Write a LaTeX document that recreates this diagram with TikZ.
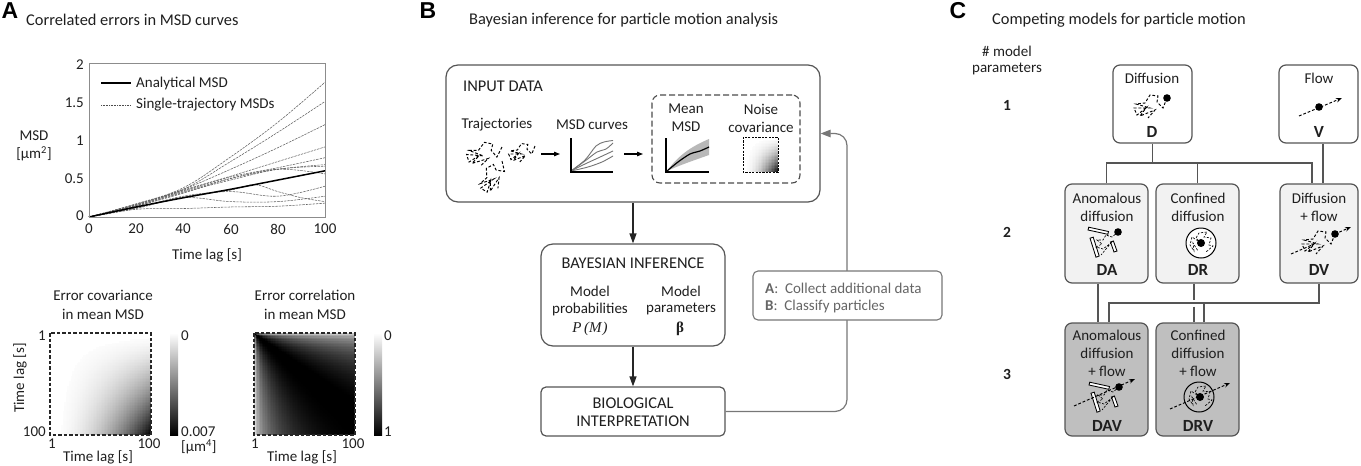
\documentclass[tikz,border=0pt]{standalone}
\usepackage{fontspec}
\setmainfont{Carlito}
\newfontfamily\letterfont{Liberation Sans}
\newfontfamily\mathfontx{Liberation Serif}
\usetikzlibrary{arrows.meta,calc,shapes.geometric}
\definecolor{edgegray}{HTML}{555555}
\definecolor{framegray}{HTML}{8C8C8C}
\definecolor{fbgray}{HTML}{777777}
\definecolor{lightfill}{HTML}{F2F2F2}
\definecolor{darkfill}{HTML}{BFBFBF}
\tikzset{
 txt/.style={inner sep=0pt,font=\fontsize{15}{17}\selectfont,align=center,text=black!88},
 captxt/.style={txt,font=\fontsize{16.4}{18}\selectfont},
 titletxt/.style={txt,anchor=west,font=\fontsize{16.4}{18}\selectfont},
 letterlbl/.style={inner sep=0pt,font=\fontsize{23}{24}\letterfont\bfseries},
 codelbl/.style={txt,font=\fontsize{17}{18}\selectfont\bfseries},
 bigbox/.style={draw=edgegray,line width=1.2pt,rounded corners=#1,inner sep=0pt,fill=white},
 bigbox/.default=12pt,
 modelbox/.style={draw=edgegray,line width=1.2pt,rounded corners=7pt,inner sep=0pt,fill=#1},
 conn/.style={draw=edgegray,line width=1.1pt},
 flowarrow/.style={draw=black!85,line width=1.2pt,-{Triangle[length=10pt,width=7pt]}},
 smallarrow/.style={draw=black,line width=1.1pt,-{Triangle[length=6pt,width=4.5pt]}},
 walkline/.style={draw=black,line width=.95pt,dash pattern=on 2.8pt off 1.9pt},
 thinwalk/.style={draw=black,line width=.65pt,dash pattern=on 2.2pt off 1.5pt},
 msdcurve/.style={draw=black!62,line width=.55pt,dash pattern=on 2.4pt off 1pt},
 obstacle/.style={draw=black,line width=.85pt,fill=white},
 ball/.style={fill=black},
 heatframe/.style={draw=black!85,line width=1.2pt,dash pattern=on 3.5pt off 2pt},
 flowtip/.style={walkline,-{Stealth[length=6pt,width=4.5pt]}},
 pics/walk/.style={code={
  \draw[walkline] (0,0) -- (-4,10) -- (-10,4) -- (-9,-2) -- (-17,-3) -- (-22,5) -- (-31,6) -- (-17,10) -- (-33,10) -- (-30,17) -- (-21,10) -- (-27,18) -- (-12,12) -- (-19,20);
 }},
 pics/bars/.style={code={
  \draw[obstacle] (-30,-2) -- (-29.3,-4.8) -- (-9.5,-0.5) -- (-10.2,2.3) -- cycle;
  \draw[obstacle] (-28,6.2) -- (-24.8,5.2) -- (-18.8,24) -- (-22,25.2) -- cycle;
  \draw[obstacle] (-7.5,10) -- (-4.6,9) -- (-1,19) -- (-4,20) -- cycle;
  \draw[thinwalk] (0,0) -- (-6,5) -- (-12,3) -- (-15,8) -- (-21,8) -- (-16,12) -- (-22,15) -- (-15,17) -- (-7,11) -- (-17,23);
 }},
 pics/confined/.style={code={
  \draw[thinwalk] (0,0) -- (-5,-5) -- (-2,-10) -- (6,-11) -- (3,-6) -- (10,-5) -- (8,2) -- (12,3) -- (5,9);
  \draw[thinwalk] (0,0) -- (-9,-6) -- (-11,2) -- (-7,8) -- (-8,0) -- (-3,8);
 }}
}
\newcommand{\heatcov}[5]{%
 \foreach \ii in {1,...,#5}{\foreach \jj in {1,...,#5}{%
  \pgfmathsetmacro{\vv}{100*pow((\ii-.5)/#5,2)*pow((\jj-.5)/#5,1.5)}%
  \pgfmathsetmacro{\vw}{\vv<1.2?0:\vv}%
  \fill[black!\vw!white] ({#1+(\ii-1)*(#3-#1)/#5},{#2+(\jj-1)*(#4-#2)/#5}) rectangle ({#1+min(\ii+.4,#5)*(#3-#1)/#5},{#2+min(\jj+.4,#5)*(#4-#2)/#5});
 }}}
\newcommand{\heatcor}[5]{%
 \foreach \ii in {1,...,#5}{\foreach \jj in {1,...,#5}{%
  \pgfmathsetmacro{\xa}{(\ii-.5)/#5}\pgfmathsetmacro{\ya}{(\jj-.5)/#5}%
  \pgfmathsetmacro{\vv}{100-100*pow(max(0,1-sqrt(min(\xa,\ya)/max(\xa,\ya))),1.8)}%
  \pgfmathsetmacro{\vw}{min(100,\xa>\ya?\vv+5:\vv)}%
  \fill[black!\vw!white] ({#1+(\ii-1)*(#3-#1)/#5},{#2+(\jj-1)*(#4-#2)/#5}) rectangle ({#1+min(\ii+.4,#5)*(#3-#1)/#5},{#2+min(\jj+.4,#5)*(#4-#2)/#5});
 }}}
\begin{document}
\begin{tikzpicture}[x=1pt,y=-1pt]
\useasboundingbox (0,0) rectangle (1361,466);
% ---------- Panel A
\node[letterlbl] (letterA) at (10,11) {A};
\node[titletxt] (titleA) at (26,20) {Correlated errors in MSD curves};
\begin{scope}[shift={(89,217)},x=2.36pt,y=77pt]
 \foreach \cv in {
  {(0,0) (20,.17) (40,.38) (60,.78) (80,1.23) (100,1.75)},
  {(0,0) (20,.17) (40,.36) (60,.72) (80,1.1) (100,1.5)},
  {(0,0) (20,.16) (40,.36) (60,.62) (80,.9) (100,1.2)},
  {(0,0) (20,.16) (40,.35) (60,.53) (80,.72) (100,.91)},
  {(0,0) (20,.15) (40,.34) (60,.52) (80,.64) (100,.77)},
  {(0,0) (20,.15) (40,.33) (60,.5) (80,.62) (100,.68)},
  {(0,0) (20,.14) (40,.32) (60,.48) (80,.62) (100,.66)},
  {(0,0) (20,.14) (40,.31) (60,.5) (80,.62) (100,.56)},
  {(0,0) (20,.12) (40,.27) (60,.33) (80,.27) (100,.4)},
  {(0,0) (20,.12) (40,.26) (60,.35) (70,.42) (80,.33) (90,.25) (100,.2)},
  {(0,0) (20,.11) (40,.25) (60,.2) (80,.2) (100,.27)},
  {(0,0) (20,.1) (40,.11) (60,.13) (80,.14) (100,.18)}}
 { \draw[msdcurve] plot[smooth,tension=.6] coordinates \cv; }
 \draw[black,line width=1.5pt] plot[smooth] coordinates {(0,0) (20,.13) (40,.25) (60,.36) (80,.48) (100,.6)};
\end{scope}
\draw[framegray,line width=.9pt] (89,63) rectangle (325,217);
\draw[black,line width=1.5pt] (101,83) -- (131,83);
\draw[black!70,line width=.7pt,dash pattern=on 1pt off .6pt] (101,105) -- (131,105);
\node[txt,anchor=west] (legA) at (136,83) {Analytical MSD};
\node[txt,anchor=west] (legB) at (136,105) {Single-trajectory MSDs};
\node[txt,anchor=east] (y2) at (84,65) {2};
\node[txt,anchor=east] (y15) at (84,103) {1.5};
\node[txt,anchor=east] (y1) at (84,141) {1};
\node[txt,anchor=east] (y05) at (84,179) {0.5};
\node[txt,anchor=east] (y0) at (84,216) {0};
\node[txt] (x0) at (89,229) {0};
\node[txt] (x20) at (136,229) {20};
\node[txt] (x40) at (183,229) {40};
\node[txt] (x60) at (231,229) {60};
\node[txt] (x80) at (278,229) {80};
\node[txt] (x100) at (325,229) {100};
\node[txt] (xlabA) at (207,255) {Time lag [s]};
\node[txt] (ylabA) at (34,136) {MSD};
\node[txt] (yunitA) at (34,154) {[µm\textsuperscript{2}]};
% covariance
\node[txt] (covT1) at (103,295) {Error covariance};
\node[txt] (covT2) at (103,314) {in mean MSD};
\heatcov{50}{333}{151}{435}{64}
\draw[heatframe] (50,333) rectangle (151,435);
\shade[top color=white,bottom color=black] (170,333) rectangle (178,435);
\node[txt,anchor=east] (cov1) at (46,336) {1};
\node[txt,anchor=east] (cov100) at (46,432) {100};
\node[txt] (covx1) at (52,444) {1};
\node[txt] (covx100) at (149,444) {100};
\node[txt] (covxl) at (98,457) {Time lag [s]};
\node[txt,rotate=90] (covyl) at (20,378) {Time lag [s]};
\node[txt,anchor=west] (covb0) at (181,336) {0};
\node[txt,anchor=west] (covb7) at (181,432) {0.007};
\node[txt,anchor=west] (covbu) at (181,447) {[µm\textsuperscript{4}]};
% correlation
\node[txt] (corT1) at (305,295) {Error correlation};
\node[txt] (corT2) at (305,314) {in mean MSD};
\heatcor{254}{333}{355}{435}{64}
\draw[heatframe] (254,333) rectangle (355,435);
\shade[top color=white,bottom color=black] (374,333) rectangle (382,435);
\node[txt] (corx1) at (255,444) {1};
\node[txt] (corx100) at (353,444) {100};
\node[txt] (corxl) at (302,457) {Time lag [s]};
\node[txt,anchor=west] (corb0) at (384,336) {0};
\node[txt,anchor=west] (corb1) at (384,432) {1};
% ---------- Panel B
\node[letterlbl] (letterB) at (428,11) {B};
\node[titletxt] (titleB) at (469,20) {Bayesian inference for particle motion analysis};
\node[bigbox=12pt,minimum width=374pt,minimum height=137pt] (input) at (633,133.5) {};
\node[bigbox=5pt,minimum width=184pt,minimum height=49pt] (bio) at (633,411.5) {};
\draw[draw=fbgray,line width=1.2pt,rounded corners=12pt,-{Triangle[length=10pt,width=7.5pt]}] (bio.east) -- (847,411.5) -- (847,133.5) -- (input.east);
\node[captxt,anchor=west] (inputT) at (463,86) {INPUT DATA};
\node[draw=black!70,line width=1.1pt,dash pattern=on 6pt off 3pt,rounded corners=8pt,inner sep=0pt,minimum width=148pt,minimum height=88pt] (dashbox) at (726,139) {};
\node[txt] (trajT) at (497,125) {Trajectories};
\node[txt] (msdT) at (592,125) {MSD curves};
\node[txt] (meanT1) at (686,109) {Mean};
\node[txt] (meanT2) at (686,127) {MSD};
\node[txt] (noiseT1) at (761,109) {Noise};
\node[txt] (noiseT2) at (761,127) {covariance};
\pic[shift={(502,147)},scale=1.05,rotate=-5] {walk};
\pic[shift={(535,146)},scale=.8] {walk};
\pic[shift={(502,161)},scale=1.0,rotate=35] {walk};
\coordinate (a1s) at (541,154); \coordinate (a1e) at (560,154);
\coordinate (a2s) at (624,154); \coordinate (a2e) at (643,154);
\draw[smallarrow] (a1s) -- (a1e);
\draw[smallarrow] (a2s) -- (a2e);
% msd icon
\foreach \cv in {
 {(571,171) (585,160) (596,146) (604,142) (613,140.5)},
 {(571,171) (585,161) (597,152) (606,149) (613,143)},
 {(571,171) (585,164) (598,158) (613,151)},
 {(571,171) (588,167) (602,162) (613,156)}}
 { \draw[black!55,line width=.9pt] plot[smooth] coordinates \cv; }
\draw[black,line width=1.1pt] (571,138) -- (571,172) -- (613,172);
% mean msd icon
\fill[black!28] (667,171) .. controls (678,156) and (690,147) .. (709,139) -- (709,155) .. controls (695,160) and (680,165) .. (667,171) -- cycle;
\draw[black,line width=1.2pt] plot[smooth] coordinates {(667,171) (678,162) (690,154) (700,151) (709,147)};
\draw[black,line width=1.1pt] (666,138) -- (666,172) -- (709,172);
% noise
\heatcov{743}{137}{778}{172}{24}
\draw[black,line width=.9pt,dash pattern=on 2.2pt off 1.2pt] (743,137) rectangle (778,172);
% bayes
\node[bigbox=12pt,minimum width=184pt,minimum height=102pt] (bayes) at (633,295) {};
\node[captxt] (bayesT) at (633,263) {BAYESIAN INFERENCE};
\node[txt] (mp1) at (590,291) {Model};
\node[txt] (mp2) at (590,309) {probabilities};
\node[txt,font=\fontsize{15}{17}\mathfontx\itshape] (mp3) at (590,329) {P\,(M\kern1pt)};
\node[txt] (mq1) at (681,291) {Model};
\node[txt] (mq2) at (681,309) {parameters};
\node[txt,font=\fontsize{15}{17}\mathfontx\bfseries] (mq3) at (680,329) {β};
\node[captxt] (bio1) at (633,403) {BIOLOGICAL};
\node[captxt] (bio2) at (633,421) {INTERPRETATION};
\draw[flowarrow] (input.south) -- (bayes.north);
\draw[flowarrow] (bayes.south) -- (bio.north);
\node[draw=fbgray,line width=1.1pt,rounded corners=5pt,fill=white,inner sep=0pt,minimum width=189pt,minimum height=49pt] (next) at (847.5,295.5) {};
\node[txt,anchor=west,text=black!60] (nextA) at (765,288) {\textbf{A}:\ \ Collect additional data};
\node[txt,anchor=west,text=black!60] (nextB) at (765,306) {\textbf{B}:\ \ Classify particles};
% ---------- Panel C
\node[letterlbl] (letterC) at (958,11) {C};
\node[titletxt] (titleC) at (992,20) {Competing models for particle motion};
\node[txt] (rowT1) at (1007,51) {\# model};
\node[txt] (rowT2) at (1007,69) {parameters};
\node[txt,font=\fontsize{15.5}{18}\selectfont\bfseries] (row1) at (1007,105) {1};
\node[txt,font=\fontsize{15.5}{18}\selectfont\bfseries] (row2) at (1007,232) {2};
\node[txt,font=\fontsize{15.5}{18}\selectfont\bfseries] (row3) at (1007,374) {3};
\node[modelbox=white,minimum width=79pt,minimum height=78pt] (D) at (1152.5,104) {};
\node[modelbox=white,minimum width=79pt,minimum height=78pt] (V) at (1318.5,104) {};
\node[modelbox=lightfill,minimum width=83pt,minimum height=99pt] (DA) at (1106.5,233.5) {};
\node[modelbox=lightfill,minimum width=83pt,minimum height=99pt] (DR) at (1197.5,233.5) {};
\node[modelbox=lightfill,minimum width=78pt,minimum height=99pt] (DV) at (1319,233.5) {};
\node[modelbox=darkfill,minimum width=83pt,minimum height=113pt] (DAV) at (1106.5,379.5) {};
\node[modelbox=darkfill,minimum width=83pt,minimum height=113pt] (DRV) at (1197.5,379.5) {};
% connectors
\coordinate (busD) at (1152.5,163);
\coordinate (busV) at (1312,163);
\coordinate (flowX) at (1323,163);
\draw[conn] (D.south) -- (busD);
\draw[conn] (DA.north) |- (busV) -- (DV.north -| busV);
\draw[conn] (DR.north) -- (DR.north |- busD);
\draw[conn] (V.south -| flowX) -- (DV.north -| flowX);
\coordinate (busA) at (1098,300);
\draw[conn] (DA.south -| busA) -- (DAV.north -| busA);
\coordinate (busL) at (1109,303);
\coordinate (busM) at (1204,303);
\draw[conn] (DV.south) |- (busL) -- (DAV.north -| busL);
\draw[conn] (busM) -- (DRV.north -| busM);
\coordinate (hopT) at (1194,299.5);
\coordinate (hopB) at (1194,306.5);
\draw[conn] (DR.south -| hopT) -- (hopT);
\draw[conn] (hopB) -- (DRV.north -| hopB);
% model labels
\node[txt] (Dt) at (1152,78) {Diffusion};
\node[codelbl] (Dc) at (1152,132) {D};
\pic at (1167,98) {walk};
\fill[ball] (1167,98) circle (3.8);
\node[txt] (Vt) at (1319,78) {Flow};
\node[codelbl] (Vc) at (1319,132) {V};
\draw[flowtip] (1299,116) -- (1342,98);
\fill[ball] (1319,107) circle (3.8);
\node[txt] (DAt1) at (1107,198) {Anomalous};
\node[txt] (DAt2) at (1107,216) {diffusion};
\node[codelbl] (DAc) at (1107,270) {DA};
\pic at (1118,232) {bars};
\fill[ball] (1118,232) circle (3.8);
\node[txt] (DRt1) at (1198,198) {Confined};
\node[txt] (DRt2) at (1198,216) {diffusion};
\node[codelbl] (DRc) at (1198,270) {DR};
\draw[black,line width=1pt,fill=white] (1201,243) circle (15);
\pic at (1201,243) {confined};
\fill[ball] (1201,243) circle (4);
\node[txt] (DVt1) at (1319,198) {Diffusion};
\node[txt] (DVt2) at (1319,216) {+ flow};
\node[codelbl] (DVc) at (1319,270) {DV};
\pic at (1335,234) {walk};
\draw[flowtip] (1335,234) -- (1351,227);
\draw[walkline] (1291,254) -- (1312,245);
\fill[ball] (1335,234) circle (3.8);
\node[txt] (DAVt1) at (1107,335) {Anomalous};
\node[txt] (DAVt2) at (1107,353) {diffusion};
\node[txt] (DAVt3) at (1107,371) {+ flow};
\node[codelbl] (DAVc) at (1107,426) {DAV};
\pic at (1119,387) {bars};
\draw[flowtip] (1074,406) -- (1135,379);
\fill[ball] (1119,387) circle (3.8);
\node[txt] (DRVt1) at (1198,335) {Confined};
\node[txt] (DRVt2) at (1198,353) {diffusion};
\node[txt] (DRVt3) at (1198,371) {+ flow};
\node[codelbl] (DRVc) at (1198,426) {DRV};
\draw[black,line width=1pt,fill=darkfill] (1199,397) circle (15);
\pic at (1200,397) {confined};
\draw[flowtip] (1170,409) -- (1230,383);
\fill[ball] (1200,397) circle (4);
\end{tikzpicture}
\end{document}
